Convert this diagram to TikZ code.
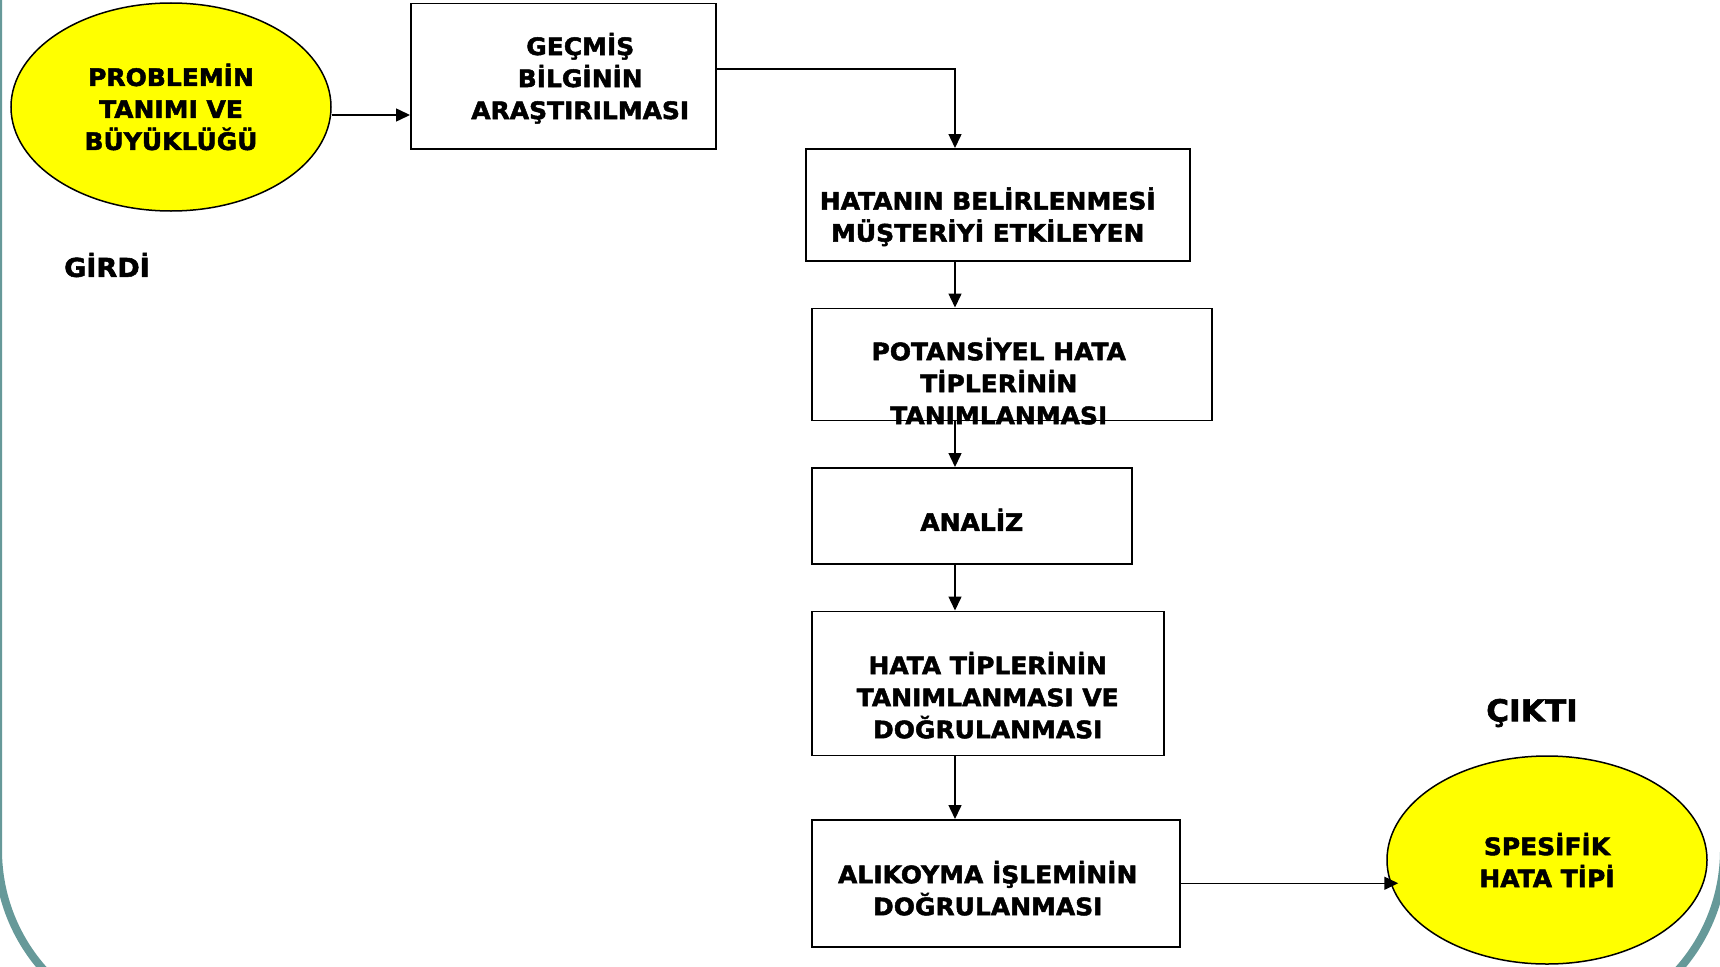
\documentclass[tikz,border=0pt]{standalone}
\usepackage{fontspec}
\setmainfont{DejaVu Sans}[FakeStretch=1.04,BoldFeatures={FakeBold=2}]
\usetikzlibrary{arrows.meta,positioning,shapes.geometric}
\definecolor{slideteal}{HTML}{669999}
\definecolor{ovalyellow}{HTML}{FFFF00}

\begin{document}
\begin{tikzpicture}[x=1pt,y=-1pt,node distance=46pt,
font=\bfseries\fontsize{24pt}{32pt}\selectfont,
every label/.style={align=center,inner sep=0pt},
block/.style={draw,line width=1.5pt,align=center,inner sep=0pt},
bubble/.style={draw,ellipse,fill=ovalyellow,line width=1.5pt,align=center,inner sep=0pt,minimum width=320pt,minimum height=208pt},
arrow/.style={-{Triangle[length=14pt,width=13pt]},line width=1.5pt}]
\useasboundingbox[fill=white] (0,0) rectangle (1720,966);
% slide frame
\begin{scope}
\clip (0,0) rectangle (1720,966);
\draw[slideteal,line width=8pt,rounded corners=180pt] (-2,-300) -- (-2,1030) -- (1724,1030) -- (1724,-300);
\end{scope}
\node[bubble] (prob) at (171,107) {PROBLEMİN\\TANIMI VE\\BÜYÜKLÜĞÜ};
\node[block,anchor=north west,minimum width=305pt,minimum height=145pt,
  label={[shift={(17,2)}]center:{GEÇMİŞ\\BİLGİNİN\\ARAŞTIRILMASI}}] (gecmis) at (410,3) {};
\node[block,anchor=north west,minimum width=384pt,minimum height=112pt,
  label={[shift={(-10,12)}]center:{HATANIN BELİRLENMESİ\\MÜŞTERİYİ ETKİLEYEN}}] (hata) at (805,148) {};
\node[block,below=of hata.south west,anchor=north west,xshift=6pt,minimum width=400pt,minimum height=112pt,
  label={[shift={(-13,17)}]center:{POTANSİYEL HATA\\TİPLERİNİN\\TANIMLANMASI}}] (pot) {};
\node[block,below=of pot.south west,anchor=north west,minimum width=320pt,minimum height=96pt,
  label={[shift={(0,4)}]center:ANALİZ}] (analiz) {};
\node[block,below=of analiz.south west,anchor=north west,minimum width=352pt,minimum height=144pt,
  label={[shift={(0,12)}]center:{HATA TİPLERİNİN\\TANIMLANMASI VE\\DOĞRULANMASI}}] (tipler) {};
\node[block,below=63pt of tipler.south west,anchor=north west,minimum width=368pt,minimum height=127pt,
  label={[shift={(-8,5)}]center:{ALIKOYMA İŞLEMİNİN\\DOĞRULANMASI}}] (alikoyma) {};
\node[bubble] (spesifik) at (1547,860) {SPESİFİK\\HATA TİPİ};
\node[font=\bfseries\fontsize{26pt}{30pt}\selectfont] (girdi) at (107,265) {GİRDİ};
\node[font=\bfseries\fontsize{30pt}{36pt}\selectfont] (cikti) at (1532,713) {ÇIKTI};
% connectors
\coordinate (spine) at (955,0);
\coordinate (in) at ([yshift=-8pt]prob.east);
\coordinate (out) at ([yshift=7.5pt]gecmis.east);
\coordinate (hit) at ([xshift=12pt]spesifik.west);
\draw[arrow] (in) -- (in -| gecmis.west);
\draw[arrow] (out) -| (hata.north -| spine);
\draw[arrow] (hata.south -| spine) -- (pot.north -| spine);
\draw[arrow] (pot.south -| spine) -- (analiz.north -| spine);
\draw[arrow] (analiz.south -| spine) -- (tipler.north -| spine);
\draw[arrow] (tipler.south -| spine) -- (alikoyma.north -| spine);
\draw[arrow] (alikoyma.east) -- (alikoyma.east -| hit);
\end{tikzpicture}
\end{document}
